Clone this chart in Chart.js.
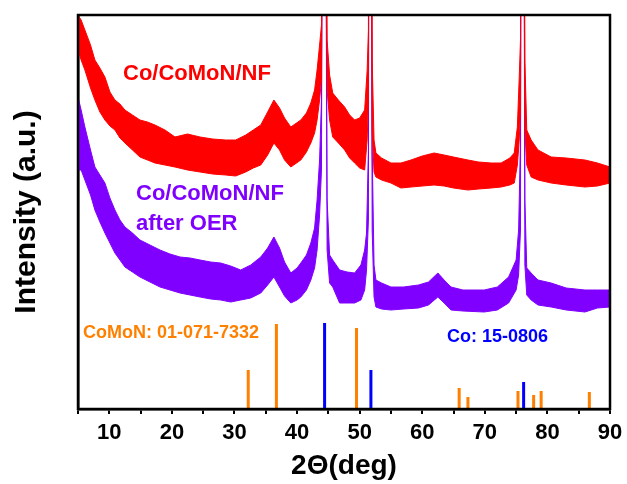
<!DOCTYPE html>
<html>
<head>
<meta charset="utf-8">
<script src="https://cdn.jsdelivr.net/npm/chart.js@4.4.0/dist/chart.umd.min.js"></script>
<style>
  html, body { margin: 0; padding: 0; background: #fff; }
</style>
</head>
<body>
<canvas id="xrdChart" width="627" height="484"></canvas>
<script>
// Co/CoMoN/NF trace, read as a noise band (upper / lower edge), a.u.
const redX = [5.0,5.5,6.1,7.0,7.7,8.5,9.3,10.1,10.9,11.7,12.5,13.7,14.9,16.1,17.3,18.9,20.5,22.5,24.5,26.5,28.6,30.2,31.8,33.0,34.2,35.3,36.3,37.2,38.0,39.0,40.6,41.5,42.2,42.8,43.2,43.6,43.9,44.1,44.5,44.8,45.2,45.7,46.6,47.6,48.4,49.2,50.0,50.8,51.2,51.4,51.5,51.8,52.0,52.3,52.6,53.5,55.0,56.6,58.2,60.0,61.9,63.5,65.0,67.3,69.0,71.0,72.6,74.0,74.7,75.2,75.5,75.7,75.8,76.2,76.4,76.7,77.4,78.5,80.6,83.0,86.0,88.0,90.0];
const redTop = [394,389,379,364,349,341,332,317,309,305,299,294,289,287,284,279,272,275,272,270,269,269,274,279,284,297,309,301,291,282,289,296,306,319,339,364,384,700,700,369,334,316,309,302,294,289,291,299,339,379,700,700,349,269,256,251,246,246,249,253,256,254,252,249,247,246,246,251,256,282,332,369,700,700,349,279,269,259,252,251,249,246,242];
const redBottom = [359,349,339,321,309,297,289,283,279,271,266,259,252,249,246,244,242,239,237,235,234,233,237,241,244,254,266,259,249,242,249,257,266,276,289,309,329,700,700,319,289,272,266,259,251,246,241,239,269,309,700,700,279,237,232,229,226,221,222,223,224,223,221,219,220,221,222,224,226,244,269,299,700,700,279,244,232,229,226,224,222,223,226];

// Co/CoMoN/NF after OER trace
const purpleX = [5.0,5.5,6.1,7.0,7.7,8.5,9.3,10.1,10.9,11.7,12.5,13.7,14.9,16.5,18.1,19.7,21.3,22.9,24.5,26.2,27.8,29.4,31.0,32.6,34.2,35.3,36.3,37.2,38.0,39.0,40.0,40.6,41.5,42.2,42.8,43.2,43.6,43.9,44.1,44.5,44.8,45.2,45.7,46.8,48.0,49.2,50.2,50.8,51.1,51.4,51.5,51.8,52.0,52.3,52.6,53.5,55.0,57.0,59.4,61.0,62.5,63.5,64.6,66.5,69.9,72.0,73.8,75.0,75.4,75.7,75.8,76.2,76.4,76.7,77.4,78.5,80.6,83.0,86.0,88.0,90.0];
const purpleTop = [312,299,282,259,242,234,226,211,199,189,182,176,169,164,159,155,152,151,149,147,146,143,139,144,152,161,172,161,147,136,141,146,154,166,181,209,249,309,700,700,209,154,149,139,137,136,144,159,176,259,700,700,259,144,129,126,122,122,124,127,136,129,122,119,119,122,132,149,179,269,700,700,209,141,136,129,126,121,119,119,119];
const purpleBottom = [239,239,229,214,199,187,176,166,156,149,142,137,132,127,122,119,116,114,112,110,109,107,109,111,116,124,132,122,113,106,109,112,119,129,141,159,194,239,700,700,159,126,122,106,106,106,109,119,139,189,700,700,179,112,102,100,99,100,101,104,112,106,99,98,97,99,106,119,134,179,700,700,144,114,109,104,102,99,97,101,102];

// reference patterns
const comonPos = [32.2, 36.7, 49.5, 65.9, 67.3, 75.3, 77.8, 79.0, 86.7];
const comonH   = [39, 85, 81, 21, 12, 18, 14, 18, 17];
const coPos = [44.4, 51.8, 76.2];
const coH   = [86, 39, 27];

const xTicks = [10, 20, 30, 40, 50, 60, 70, 80, 90];

const FONT = "'Liberation Sans', Arial, sans-serif";

function pts(xs, ys) {
  return xs.map((x, i) => ({x: x, y: ys[i]}));
}
function sticks(pos, h) {
  const out = [];
  pos.forEach((p, i) => {
    out.push({x: p, y: 0}, {x: p, y: h[i]}, {x: p, y: null});
  });
  return out;
}

function band(xs, top, bottom, color) {
  return [
    {data: pts(xs, bottom), borderColor: color, borderWidth: 1, pointRadius: 0, fill: false, tension: 0},
    {data: pts(xs, top), borderColor: color, borderWidth: 1, pointRadius: 0, fill: '-1', backgroundColor: color, tension: 0}
  ];
}

const labelsPlugin = {
  id: 'labels',
  afterDraw(chart) {
    const ctx = chart.ctx;
    const a = chart.chartArea;
    ctx.save();
    ctx.strokeStyle = '#000';
    ctx.lineWidth = 2.5;
    ctx.strokeRect(a.left, a.top, a.right - a.left, a.bottom - a.top);
    ctx.textAlign = 'left';
    ctx.textBaseline = 'middle';
    ctx.font = 'bold 22px ' + FONT;
    ctx.fillStyle = '#ff0000';
    ctx.fillText('Co/CoMoN/NF', 123, 74);
    ctx.fillStyle = '#8000ff';
    ctx.fillText('Co/CoMoN/NF', 136, 194);
    ctx.fillText('after OER', 136, 224);
    ctx.font = 'bold 18px ' + FONT;
    ctx.fillStyle = '#ff8000';
    ctx.fillText('CoMoN: 01-071-7332', 83, 333);
    ctx.fillStyle = '#0000ff';
    ctx.fillText('Co: 15-0806', 447, 337);
    ctx.restore();
  }
};

new Chart(document.getElementById('xrdChart'), {
  type: 'line',
  data: {
    datasets: [
      ...band(redX, redTop, redBottom, '#ff0000'),
      ...band(purpleX, purpleTop, purpleBottom, '#8000ff'),
      {data: sticks(comonPos, comonH), borderColor: '#ff8000', borderWidth: 3, pointRadius: 0, spanGaps: false, fill: false, borderCapStyle: 'butt'},
      {data: sticks(coPos, coH), borderColor: '#0000ff', borderWidth: 3, pointRadius: 0, spanGaps: false, fill: false, borderCapStyle: 'butt'}
    ]
  },
  options: {
    responsive: false,
    animation: false,
    layout: {padding: {left: 0, top: 15, right: 17, bottom: 4}},
    plugins: {legend: {display: false}, tooltip: {enabled: false}},
    scales: {
      x: {
        type: 'linear',
        min: 5, max: 90,
        afterFit: scale => { scale.paddingRight = 0; },
        grid: {display: true, drawOnChartArea: false, drawTicks: true, tickLength: 5, color: '#000', lineWidth: 2},
        border: {display: true, color: '#000', width: 2.5},
        ticks: {
          stepSize: 5,
          padding: 8,
          color: '#000',
          font: {family: FONT, size: 22, weight: 'bold', lineHeight: 1.0},
          maxRotation: 0,
          autoSkip: false,
          callback: v => xTicks.includes(v) ? String(v) : ''
        },
        title: {display: true, text: '2Θ(deg)', color: '#000', padding: {top: 0, bottom: 0}, font: {family: FONT, size: 28, weight: 'bold', lineHeight: 1.0}}
      },
      y: {
        min: 0, max: 394,
        grid: {display: false, drawTicks: false},
        border: {display: true, color: '#000', width: 2.5},
        ticks: {display: false},
        title: {display: true, text: 'Intensity (a.u.)', color: '#000', padding: {top: 9, bottom: 33}, font: {family: FONT, size: 30, weight: 'bold'}}
      }
    }
  },
  plugins: [labelsPlugin]
});
</script>
</body>
</html>
